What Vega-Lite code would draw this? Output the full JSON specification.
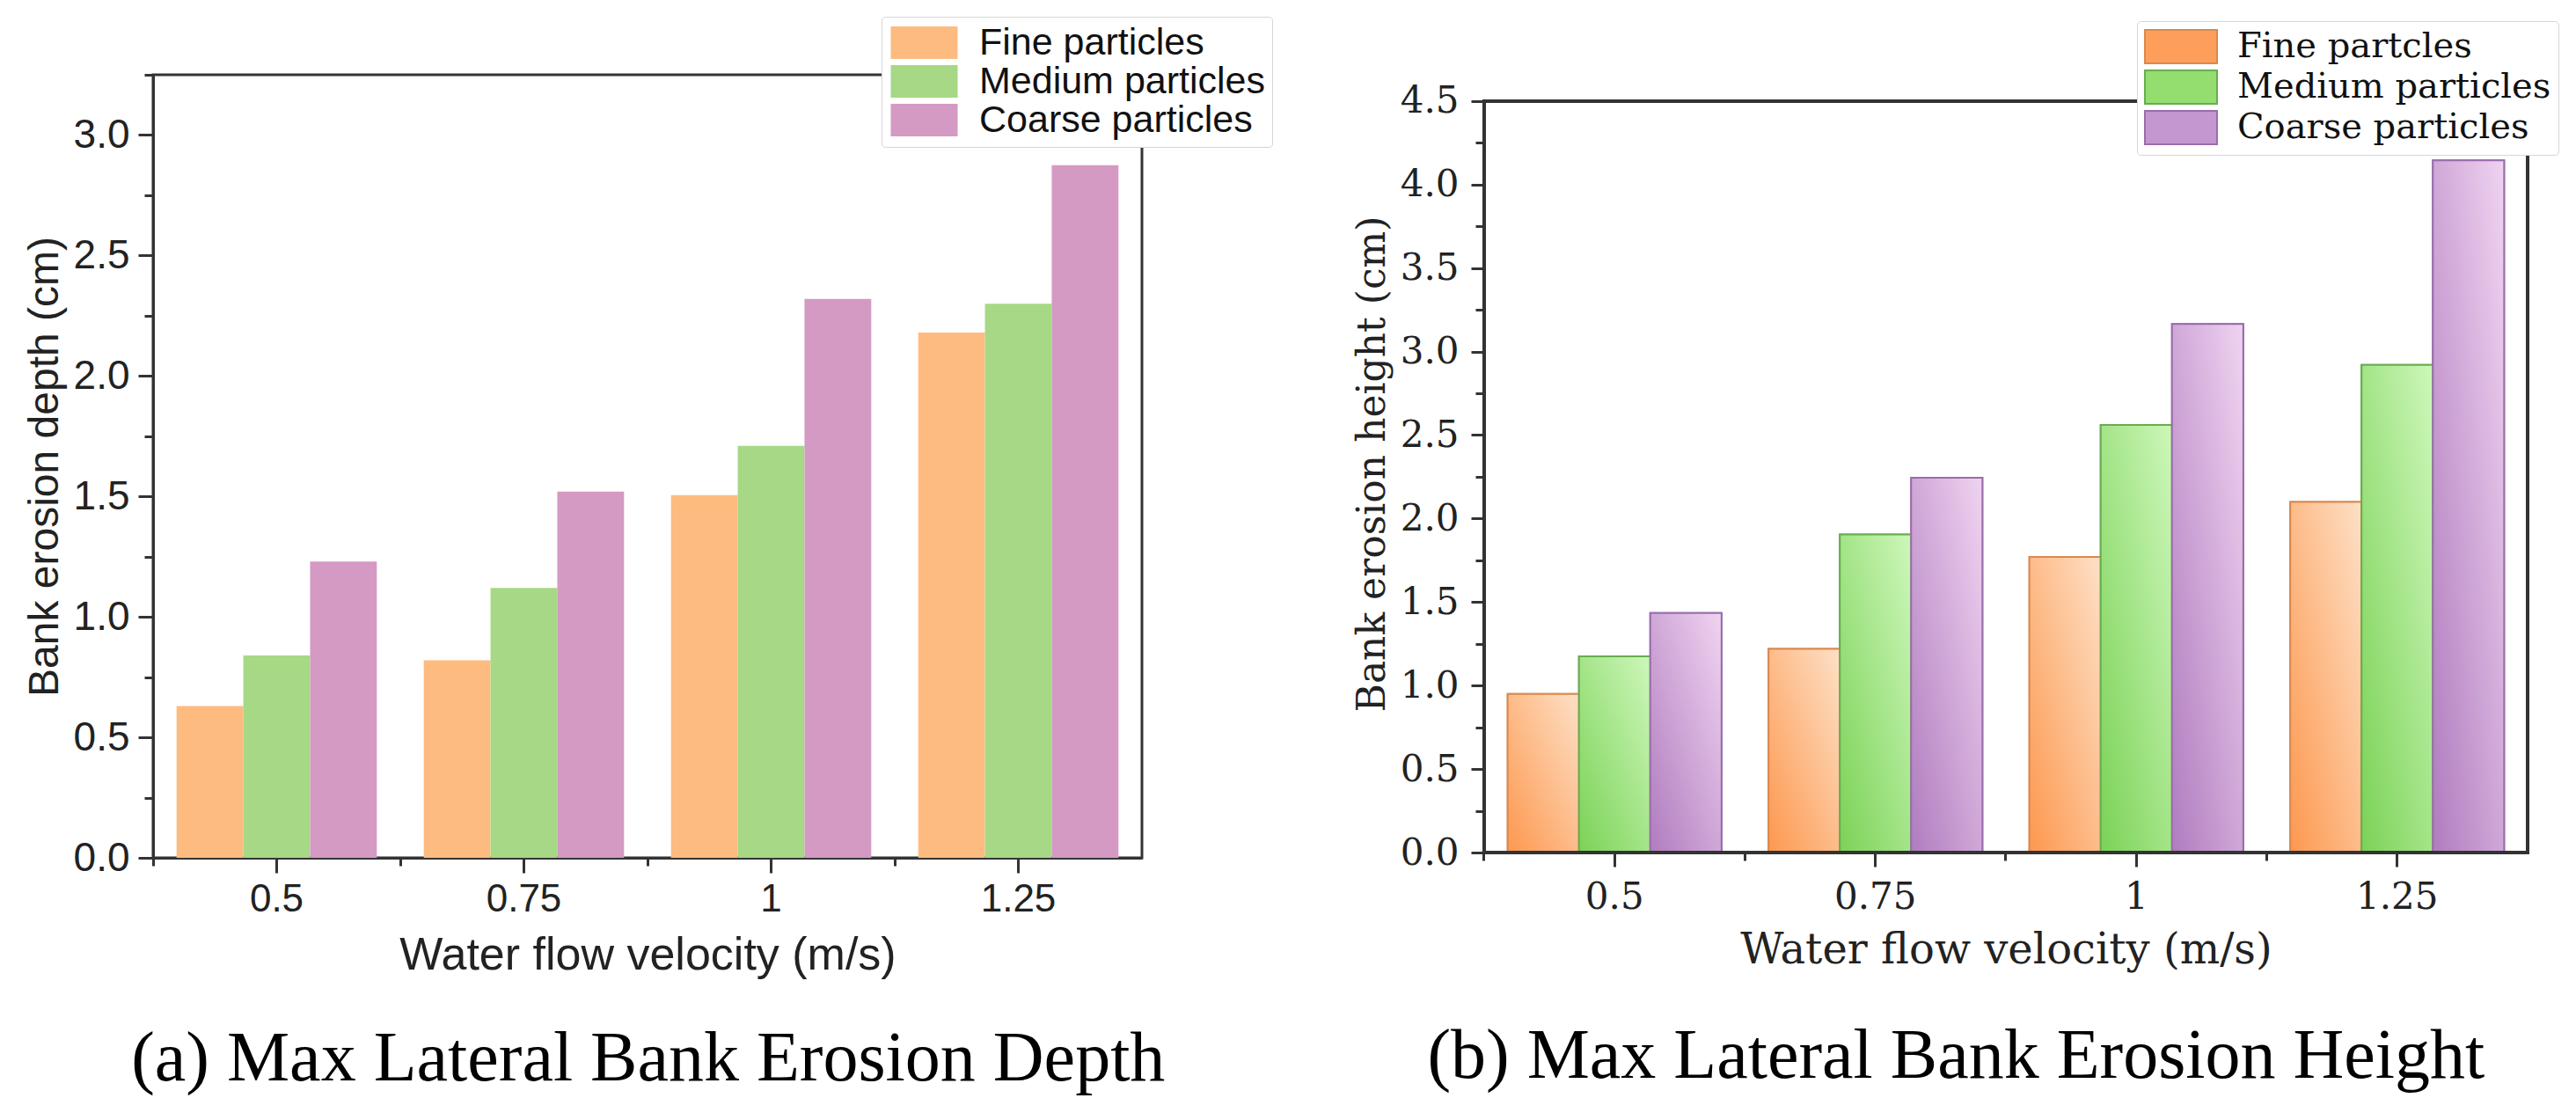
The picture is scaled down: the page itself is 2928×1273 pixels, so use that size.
{
  "$schema": "https://vega.github.io/schema/vega-lite/v6.json",
  "background": "white",
  "padding": {"left": 25, "top": 17, "right": 20, "bottom": 10},
  "spacing": 90,
  "datasets": {
    "depth": [
      {"velocity": "0.5", "type": "Fine particles", "value": 0.63},
      {"velocity": "0.5", "type": "Medium particles", "value": 0.84},
      {"velocity": "0.5", "type": "Coarse particles", "value": 1.23},
      {"velocity": "0.75", "type": "Fine particles", "value": 0.82},
      {"velocity": "0.75", "type": "Medium particles", "value": 1.12},
      {"velocity": "0.75", "type": "Coarse particles", "value": 1.52},
      {"velocity": "1", "type": "Fine particles", "value": 1.505},
      {"velocity": "1", "type": "Medium particles", "value": 1.71},
      {"velocity": "1", "type": "Coarse particles", "value": 2.32},
      {"velocity": "1.25", "type": "Fine particles", "value": 2.18},
      {"velocity": "1.25", "type": "Medium particles", "value": 2.30},
      {"velocity": "1.25", "type": "Coarse particles", "value": 2.875}
    ],
    "height": [
      {"velocity": "0.5", "type": "Fine partcles", "value": 0.95},
      {"velocity": "0.5", "type": "Medium particles", "value": 1.175},
      {"velocity": "0.5", "type": "Coarse particles", "value": 1.435},
      {"velocity": "0.75", "type": "Fine partcles", "value": 1.22},
      {"velocity": "0.75", "type": "Medium particles", "value": 1.905},
      {"velocity": "0.75", "type": "Coarse particles", "value": 2.245},
      {"velocity": "1", "type": "Fine partcles", "value": 1.77},
      {"velocity": "1", "type": "Medium particles", "value": 2.56},
      {"velocity": "1", "type": "Coarse particles", "value": 3.165},
      {"velocity": "1.25", "type": "Fine partcles", "value": 2.10},
      {"velocity": "1.25", "type": "Medium particles", "value": 2.92},
      {"velocity": "1.25", "type": "Coarse particles", "value": 4.145}
    ]
  },
  "resolve": {
    "scale": {"color": "independent", "fill": "independent", "stroke": "independent", "xOffset": "independent"},
    "legend": {"color": "independent", "fill": "independent", "stroke": "independent"}
  },
  "hconcat": [
    {
      "width": 1124,
      "height": 890,
      "data": {"name": "depth"},
      "title": {
        "text": "(a) Max Lateral Bank Erosion Depth",
        "orient": "bottom",
        "anchor": "middle",
        "frame": "bounds",
        "font": "Liberation Serif",
        "fontSize": 80,
        "fontWeight": "normal",
        "color": "black",
        "offset": 54
      },
      "layer": [
        {
          "mark": {"type": "bar"},
          "encoding": {
            "x": {
              "field": "velocity",
              "type": "nominal",
              "sort": ["0.5", "0.75", "1", "1.25"],
              "scale": {"paddingInner": 0.19, "paddingOuter": 0.095},
              "axis": {
                "title": "Water flow velocity (m/s)",
                "titleFont": "Liberation Sans",
                "titleFontSize": 52,
                "titleFontWeight": "normal",
                "titleColor": "#222",
                "titlePadding": 16,
                "labelFont": "Liberation Sans",
                "labelFontSize": 44,
                "labelColor": "#222",
                "labelAngle": 0,
                "labelPadding": 8,
                "tickSize": 17,
                "tickWidth": 3,
                "tickColor": "#333",
                "domainColor": "#333",
                "domainWidth": 3
              }
            },
            "xOffset": {
              "field": "type",
              "scale": {"domain": ["Fine particles", "Medium particles", "Coarse particles"]}
            },
            "y": {
              "field": "value",
              "type": "quantitative",
              "scale": {"domain": [0, 3.25], "nice": false},
              "axis": {
                "title": "Bank erosion depth (cm)",
                "titleFont": "Liberation Sans",
                "titleFontSize": 48,
                "titleFontWeight": "normal",
                "titleColor": "#222",
                "titlePadding": 8,
                "values": [0, 0.25, 0.5, 0.75, 1, 1.25, 1.5, 1.75, 2, 2.25, 2.5, 2.75, 3, 3.25],
                "labelExpr": "datum.value % 0.5 === 0 ? format(datum.value, '.1f') : ''",
                "labelFont": "Liberation Sans",
                "labelFontSize": 46,
                "labelColor": "#222",
                "labelPadding": 10,
                "labelOverlap": false,
                "grid": false,
                "tickSize": {"condition": {"test": "datum.value % 0.5 !== 0", "value": 10}, "value": 17},
                "tickWidth": 3,
                "tickColor": "#333",
                "domainColor": "#333",
                "domainWidth": 3
              }
            },
            "color": {
              "field": "type",
              "type": "nominal",
              "scale": {
                "domain": ["Fine particles", "Medium particles", "Coarse particles"],
                "range": ["#fdbb80", "#a6d886", "#d49ac3"]
              },
              "legend": {
                "title": null,
                "orient": "none",
                "legendX": 828,
                "legendY": -66,
                "direction": "vertical",
                "fillColor": "white",
                "strokeColor": "#d6d6d6",
                "cornerRadius": 4,
                "padding": 8,
                "labelFont": "Liberation Sans",
                "labelFontSize": 43,
                "labelColor": "#111",
                "labelOffset": 60,
                "labelLimit": 0,
                "rowPadding": 0,
                "symbolType": "M-1,-0.97H3V0.97H-1Z",
                "symbolSize": 1444,
                "symbolStrokeWidth": 0
              }
            }
          }
        },
        {
          "mark": {"type": "point", "opacity": 0},
          "encoding": {
            "x": {
              "field": "velocity",
              "type": "nominal",
              "sort": ["0.5", "0.75", "1", "1.25"],
              "axis": {
                "orient": "bottom",
                "title": null,
                "labels": false,
                "domain": false,
                "bandPosition": -0.117,
                "tickSize": 9,
                "tickWidth": 3,
                "tickColor": "#333"
              }
            }
          }
        }
      ],
      "resolve": {"axis": {"x": "independent"}}
    },
    {
      "width": 1186,
      "height": 884,
      "view": {"stroke": null},
      "data": {"name": "height"},
      "title": {
        "text": "(b) Max Lateral Bank Erosion Height",
        "orient": "bottom",
        "anchor": "middle",
        "frame": "bounds",
        "font": "Liberation Serif",
        "fontSize": 80,
        "fontWeight": "normal",
        "color": "black",
        "offset": 58
      },
      "encoding": {
        "y": {
          "field": "value",
          "type": "quantitative",
          "scale": {"domain": [0, 4.6575], "nice": false},
          "axis": {
            "title": "Bank erosion height (cm)",
            "titleFont": "DejaVu Serif",
            "titleFontSize": 44,
            "titleFontWeight": "normal",
            "titleColor": "#222",
            "titlePadding": 9,
            "values": [0, 0.25, 0.5, 0.75, 1, 1.25, 1.5, 1.75, 2, 2.25, 2.5, 2.75, 3, 3.25, 3.5, 3.75, 4, 4.25, 4.5],
            "labelExpr": "datum.value % 0.5 === 0 ? format(datum.value, '.1f') : ''",
            "labelFont": "DejaVu Serif",
            "labelFontSize": 42,
            "labelColor": "#222",
            "labelPadding": 14,
            "labelOverlap": false,
            "grid": false,
            "domain": false,
            "tickSize": {"condition": {"test": "datum.value % 0.5 !== 0", "value": 10}, "value": 15},
            "tickWidth": 3,
            "tickColor": "#333"
          }
        }
      },
      "layer": [
        {
          "mark": {"type": "bar", "strokeWidth": 2},
          "encoding": {
            "x": {
              "field": "velocity",
              "type": "nominal",
              "sort": ["0.5", "0.75", "1", "1.25"],
              "scale": {"paddingInner": 0.18, "paddingOuter": 0.09},
              "axis": {
                "title": "Water flow velocity (m/s)",
                "titleFont": "DejaVu Serif",
                "titleFontSize": 48,
                "titleFontWeight": "normal",
                "titleColor": "#222",
                "titlePadding": 16,
                "labelFont": "DejaVu Serif",
                "labelFontSize": 42,
                "labelColor": "#222",
                "labelAngle": 0,
                "labelPadding": 14,
                "tickSize": 16,
                "tickWidth": 3,
                "tickColor": "#333",
                "domainColor": "#333",
                "domainWidth": 3
              }
            },
            "xOffset": {
              "field": "type",
              "scale": {"domain": ["Fine partcles", "Medium particles", "Coarse particles"]}
            },
            "fill": {
              "field": "type",
              "type": "nominal",
              "scale": {
                "domain": ["Fine partcles", "Medium particles", "Coarse particles"],
                "range": ["#fd9f5a", "#94de6f", "#c597d0"]
              },
              "legend": {
                "title": null,
                "orient": "none",
                "legendX": 742,
                "legendY": -61,
                "direction": "vertical",
                "fillColor": "white",
                "strokeColor": "#d6d6d6",
                "cornerRadius": 4,
                "padding": 8,
                "labelFont": "DejaVu Serif",
                "labelFontSize": 40,
                "labelColor": "#111",
                "labelOffset": 64,
                "labelLimit": 0,
                "rowPadding": 0,
                "symbolType": "M-1,-0.95H3.1V0.95H-1Z",
                "symbolSize": 1600,
                "symbolStrokeWidth": 2
              }
            },
            "stroke": {
              "field": "type",
              "type": "nominal",
              "scale": {
                "domain": ["Fine partcles", "Medium particles", "Coarse particles"],
                "range": ["#d9894f", "#68ad4e", "#9a6dab"]
              },
              "legend": {
                "title": null,
                "orient": "none",
                "legendX": 742,
                "legendY": -61,
                "direction": "vertical",
                "fillColor": "white",
                "strokeColor": "#d6d6d6",
                "cornerRadius": 4,
                "padding": 8,
                "labelFont": "DejaVu Serif",
                "labelFontSize": 40,
                "labelColor": "#111",
                "labelOffset": 64,
                "labelLimit": 0,
                "rowPadding": 0,
                "symbolType": "M-1,-0.95H3.1V0.95H-1Z",
                "symbolSize": 1600,
                "symbolStrokeWidth": 2
              }
            }
          }
        },
        {
          "transform": [{"filter": "datum.type === 'Fine partcles'"}],
          "mark": {
            "type": "bar",
            "stroke": "#d9894f",
            "strokeWidth": 2,
            "fill": {"gradient": "linear", "x1": 1, "y1": 0, "x2": 0, "y2": 1, "stops": [{"offset": 0, "color": "#fde0c6"}, {"offset": 1, "color": "#fd984f"}]}
          },
          "encoding": {
            "x": {"field": "velocity", "type": "nominal", "sort": ["0.5", "0.75", "1", "1.25"], "axis": null},
            "xOffset": {"field": "type"}
          }
        },
        {
          "transform": [{"filter": "datum.type === 'Medium particles'"}],
          "mark": {
            "type": "bar",
            "stroke": "#68ad4e",
            "strokeWidth": 2,
            "fill": {"gradient": "linear", "x1": 1, "y1": 0, "x2": 0, "y2": 1, "stops": [{"offset": 0, "color": "#cdf7ba"}, {"offset": 1, "color": "#7bd257"}]}
          },
          "encoding": {
            "x": {"field": "velocity", "type": "nominal", "sort": ["0.5", "0.75", "1", "1.25"], "axis": null},
            "xOffset": {"field": "type"}
          }
        },
        {
          "transform": [{"filter": "datum.type === 'Coarse particles'"}],
          "mark": {
            "type": "bar",
            "stroke": "#9a6dab",
            "strokeWidth": 2,
            "fill": {"gradient": "linear", "x1": 1, "y1": 0, "x2": 0, "y2": 1, "stops": [{"offset": 0, "color": "#efd3f0"}, {"offset": 1, "color": "#b07cbf"}]}
          },
          "encoding": {
            "x": {"field": "velocity", "type": "nominal", "sort": ["0.5", "0.75", "1", "1.25"], "axis": null},
            "xOffset": {"field": "type"}
          }
        },
        {
          "mark": {"type": "rect", "filled": false, "color": "#333", "strokeWidth": 3},
          "encoding": {
            "y": {"datum": 4.5},
            "y2": {"datum": 0}
          }
        },
        {
          "mark": {"type": "point", "opacity": 0},
          "encoding": {
            "x": {
              "field": "velocity",
              "type": "nominal",
              "sort": ["0.5", "0.75", "1", "1.25"],
              "axis": {
                "orient": "bottom",
                "title": null,
                "labels": false,
                "domain": false,
                "bandPosition": -0.11,
                "tickSize": 9,
                "tickWidth": 3,
                "tickColor": "#333"
              }
            }
          }
        }
      ],
      "resolve": {"axis": {"x": "independent"}}
    }
  ],
  "config": {
    "view": {"stroke": "#333", "strokeWidth": 3},
    "axis": {"labelLimit": 400}
  }
}
